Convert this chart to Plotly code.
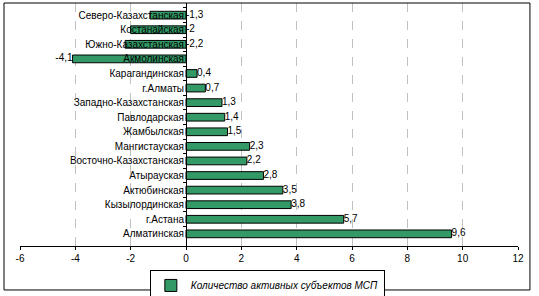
import plotly.graph_objects as go

regions = ["Северо-Казахстанская", "Костанайская", "Южно-Казахстанская", "Акмолинская",
           "Карагандинская", "г.Алматы", "Западно-Казахстанская", "Павлодарская",
           "Жамбылская", "Мангистауская", "Восточно-Казахстанская", "Атырауская",
           "Актюбинская", "Кызылординская", "г.Астана", "Алматинская"]
values = [-1.3, -2, -2.2, -4.1, 0.4, 0.7, 1.3, 1.4, 1.5, 2.3, 2.2, 2.8, 3.5, 3.8, 5.7, 9.6]
series_name = "Количество активных субъектов МСП"
x_ticks = [-6, -4, -2, 0, 2, 4, 6, 8, 10, 12]
# where each value label sits: "end" = after bar end, "zero" = right of the zero line
label_anchor = ["zero", "zero", "zero", "end"] + ["end"] * 12

FONT = "Arial, Liberation Sans, sans-serif"
GREEN = "#339966"

def fmt(v):
    s = f"{v:g}"
    return s.replace(".", ",")

lab_x = [0 if a == "zero" else v for v, a in zip(values, label_anchor)]
lab_pos = ["middle left" if (a == "end" and v < 0) else "middle right"
           for v, a in zip(values, label_anchor)]

fig = go.Figure()
fig.add_trace(go.Bar(
    y=regions, x=values, orientation="h", name=series_name,
    marker=dict(color=GREEN, line=dict(color="black", width=1)),
    showlegend=True,
))
fig.add_trace(go.Scatter(
    y=regions, x=lab_x, mode="text", text=[fmt(v) for v in values],
    textposition=lab_pos, textfont=dict(family=FONT, size=10, color="black"),
    showlegend=False, cliponaxis=False, hoverinfo="skip",
))

fig.update_layout(
    width=539, height=296,
    margin=dict(l=20, r=21, t=3, b=50, autoexpand=False),
    paper_bgcolor="white", plot_bgcolor="white",
    font=dict(family=FONT, size=10, color="black"),
    bargap=0.47,
    showlegend=True,
    legend=dict(
        orientation="h", xref="container", yref="container",
        x=0.496, xanchor="center", y=0.088, yanchor="top",
        bordercolor="black", borderwidth=1,
        font=dict(family=FONT, size=10, style="italic"),
        itemwidth=30,
    ),
    xaxis=dict(
        range=[-6, 12], tickvals=x_ticks, ticktext=[str(t) for t in x_ticks],
        showgrid=True, gridcolor="#c0c0c0", griddash="dash", gridwidth=1,
        zeroline=False, showline=True, linecolor="black", linewidth=1,
        ticks="outside", ticklen=3, tickcolor="black", fixedrange=True,
        automargin=False,
    ),
    yaxis=dict(
        autorange="reversed", anchor="free", position=6 / 18,
        showline=True, linecolor="black", linewidth=1,
        ticks="outside", ticklen=3, tickcolor="black", tickson="boundaries",
        showgrid=False, zeroline=False, fixedrange=True, automargin=False,
    ),
    shapes=[dict(type="rect", xref="paper", yref="paper",
                 x0=-0.0321, x1=1.024, y0=-0.181, y1=1.0,
                 line=dict(color="black", width=1), layer="above")],
)

fig.write_html(
    "out.html",
    config={"displayModeBar": False},
    post_script="document.body.style.margin='0';document.body.style.overflow='hidden';",
)
